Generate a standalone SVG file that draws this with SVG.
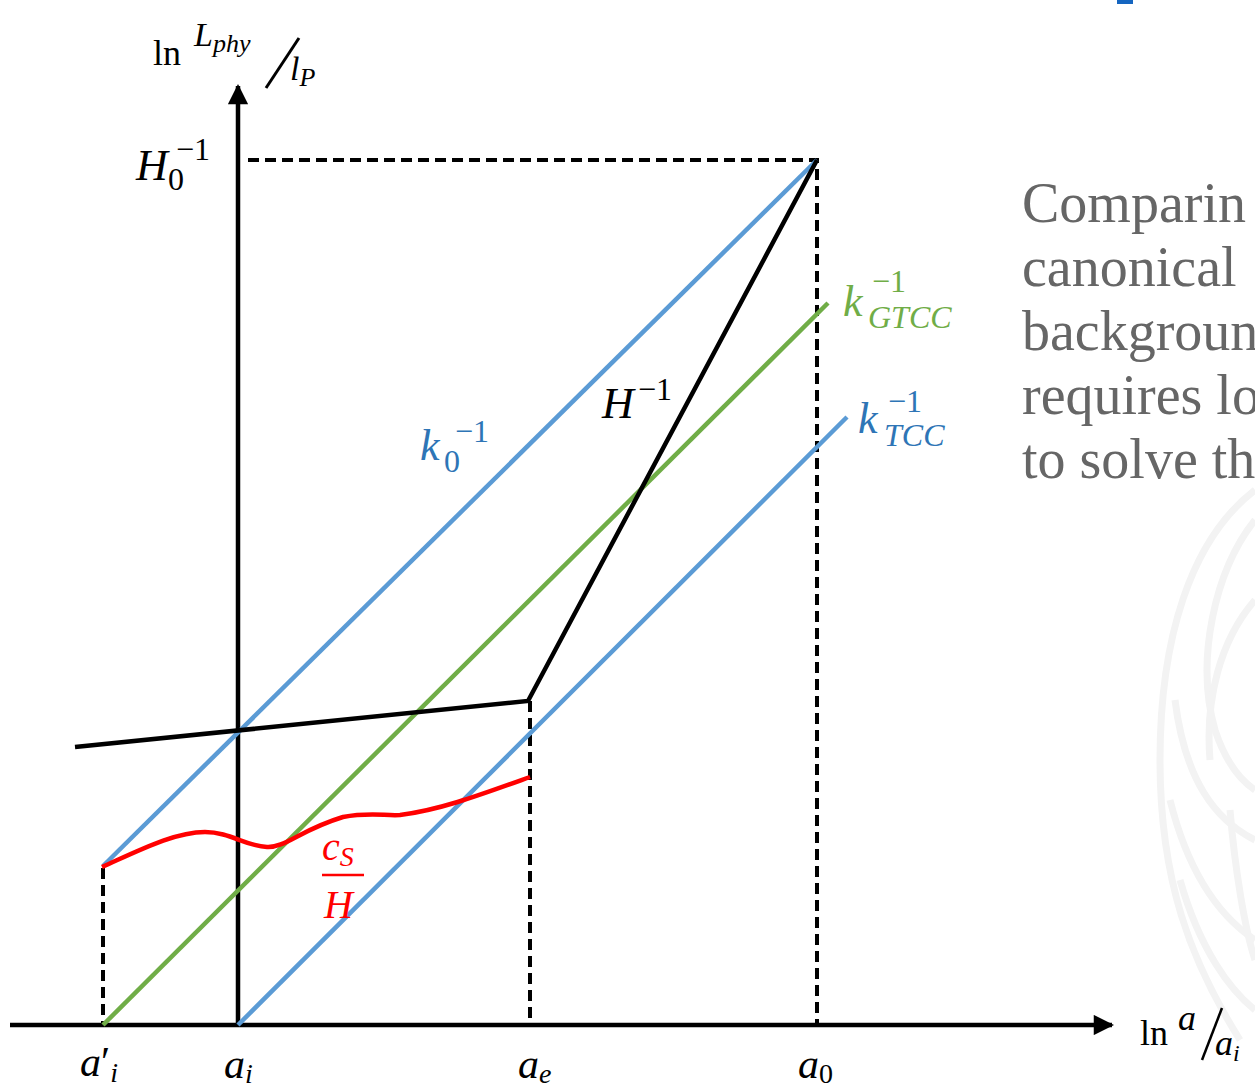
<svg xmlns="http://www.w3.org/2000/svg" width="1255" height="1090" viewBox="0 0 1255 1090">
<defs>
<style>
.m{font-family:"Liberation Serif","DejaVu Serif",serif;font-style:italic}
.r{font-family:"Liberation Serif","DejaVu Serif",serif;font-style:normal}
.dash{stroke:#000;stroke-width:4;stroke-dasharray:11 6;fill:none}
.ln{fill:none;stroke-width:4.5;stroke-linecap:butt}
.body{font-family:"Liberation Serif",serif;font-size:56px;fill:#666}
.wm{fill:none;stroke:#f3f3f3;stroke-width:7}
</style>
<marker id="arr" viewBox="0 0 10 10" refX="9" refY="5" markerWidth="5" markerHeight="4.5" orient="auto" markerUnits="strokeWidth">
<path d="M0,0 L10,5 L0,10 z" fill="#000"/>
</marker>
</defs>
<rect width="1255" height="1090" fill="#fff"/>
<rect x="1117" y="0" width="16" height="4" fill="#1565c0"/>
<g id="watermark">
<path class="wm" d="M1255,490 C1190,540 1160,640 1160,760 C1160,880 1190,960 1240,1040"/>
<path class="wm" d="M1255,520 C1215,570 1195,660 1215,730 C1225,760 1240,780 1255,790"/>
<path class="wm" d="M1255,600 C1220,640 1205,700 1210,760"/>
<path class="wm" d="M1175,700 C1185,780 1215,820 1255,840"/>
<path class="wm" d="M1170,800 C1190,880 1225,920 1255,940"/>
<path class="wm" d="M1180,880 C1200,950 1230,990 1255,1010"/>
<path class="wm" d="M1230,810 C1235,870 1245,930 1255,960"/>
</g>
<g id="text-block">
<text class="body" x="1022" y="222">Comparin</text>
<text class="body" x="1022" y="286">canonical</text>
<text class="body" x="1022" y="350">backgroun</text>
<text class="body" x="1022" y="414">requires lo</text>
<text class="body" x="1022" y="478">to solve th</text>
</g>
<g id="connectors">
<line id="x-axis" x1="10" y1="1025" x2="1112" y2="1025" stroke="#000" stroke-width="4.5" marker-end="url(#arr)"/>
<line id="y-axis" x1="238" y1="1025" x2="238" y2="86" stroke="#000" stroke-width="4.5" marker-end="url(#arr)"/>
<path class="dash" d="M248,160 H817 V1025"/>
<path class="dash" d="M103,868 V1025"/>
<path class="dash" d="M530,701 V1025"/>
<line class="ln" x1="103" y1="866" x2="817" y2="160" stroke="#5b9bd5"/>
<line class="ln" x1="103" y1="1025" x2="828" y2="303" stroke="#70ad47"/>
<line class="ln" x1="238" y1="1025" x2="847" y2="417" stroke="#5b9bd5"/>
<path class="ln" d="M75,747 L528,701 L817,160" stroke="#000" stroke-linejoin="miter"/>
<path class="ln" d="M102,867 C140,850 175,832 205,832 C230,832 245,846 267,847 C285,848 300,830 343,817 C370,812 385,816 400,815 C440,810 480,795 530,777" stroke="#ff0000"/>
</g>
<g id="labels">
<text x="153" y="65" class="r" font-size="36">ln</text>
<text x="194" y="46" class="m" font-size="34">L<tspan font-size="26" dy="6">phy</tspan></text>
<line x1="266" y1="88" x2="299" y2="38" stroke="#000" stroke-width="3"/>
<text x="290" y="80" class="m" font-size="34">l<tspan font-size="26" dy="6">P</tspan></text>
<text x="136" y="180" class="m" font-size="44">H</text>
<text x="168" y="190" class="r" font-size="32">0</text>
<text x="176" y="160" class="r" font-size="32">−1</text>
<text x="420" y="460" class="m" font-size="44" fill="#2e75b6">k</text>
<text x="444" y="472" class="r" font-size="32" fill="#2e75b6">0</text>
<text x="455" y="442" class="r" font-size="32" fill="#2e75b6">−1</text>
<text x="602" y="418" class="m" font-size="44">H</text>
<text x="638" y="400" class="r" font-size="32">−1</text>
<g fill="#70ad47">
<text x="843" y="316" class="m" font-size="44">k</text>
<text x="872" y="292" class="r" font-size="32">−1</text>
<text x="868" y="328" class="m" font-size="32">GTCC</text>
</g>
<g fill="#2e75b6">
<text x="858" y="433" class="m" font-size="44">k</text>
<text x="888" y="412" class="r" font-size="32">−1</text>
<text x="884" y="446" class="m" font-size="32">TCC</text>
</g>
<g fill="#ff0000">
<text x="322" y="860" class="m" font-size="40">c<tspan font-size="28" dy="6">S</tspan></text>
<line x1="322" y1="875" x2="364" y2="875" stroke="#ff0000" stroke-width="2.5"/>
<text x="324" y="918" class="m" font-size="40">H</text>
</g>
<text x="80" y="1076" class="m" font-size="42">a<tspan class="r">′</tspan><tspan font-size="28" dy="6">i</tspan></text>
<text x="224" y="1078" class="m" font-size="42">a<tspan font-size="28" dy="5">i</tspan></text>
<text x="518" y="1078" class="m" font-size="42">a<tspan font-size="28" dy="5">e</tspan></text>
<text x="798" y="1078" class="m" font-size="42">a<tspan class="r" font-size="28" dy="5">0</tspan></text>
<text x="1140" y="1045" class="r" font-size="36">ln</text>
<text x="1178" y="1030" class="m" font-size="36">a</text>
<line x1="1202" y1="1060" x2="1222" y2="1008" stroke="#000" stroke-width="2.5"/>
<text x="1215" y="1055" class="m" font-size="36">a<tspan font-size="24" dy="6">i</tspan></text>
</g>
</svg>
